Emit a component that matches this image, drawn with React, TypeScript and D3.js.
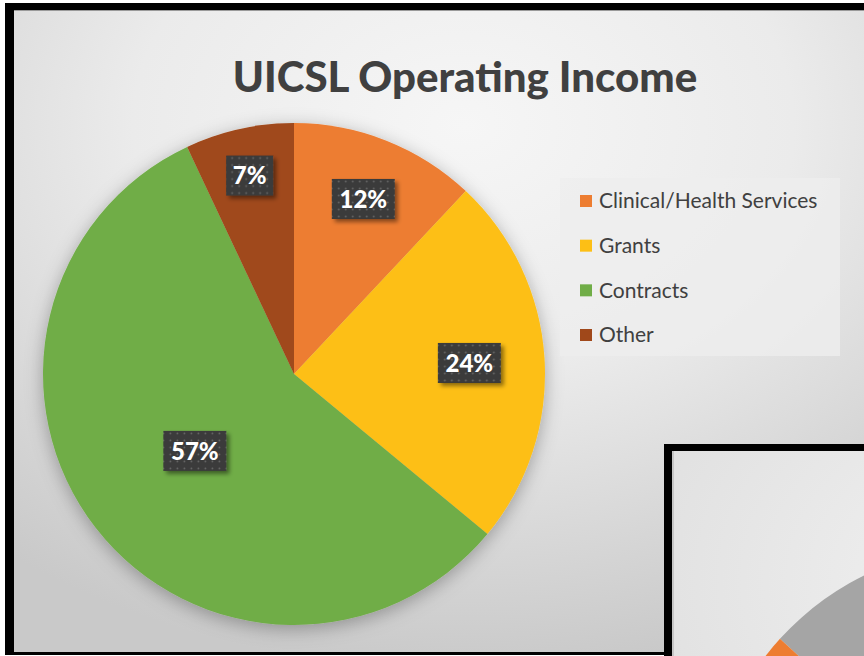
import React from 'react';
import * as d3 from 'd3';

// chart values
const categories: string[] = ['Clinical/Health Services', 'Grants', 'Contracts', 'Other'];
const shares: number[] = [12, 24, 57, 7];
const sliceColors: string[] = ['#ed7d31', '#fdbf15', '#70ad47', '#a0481a'];

// the second slide peeking in at the bottom right
const backValues: number[] = [80, 20];
const backColors: string[] = ['#a5a5a5', '#ed7d31'];

const W = 864;
const H = 656;

// excel "best fit" puts the labels at different depths
const labelDepth = [0.75, 0.7, 0.5, 0.81];

type Slice = { name: string; value: number; color: string };

const App = () => {
  const slices: Slice[] = categories.map((c, i) => ({ name: c, value: shares[i], color: sliceColors[i] }));

  const cx = 294;
  const cy = 374;
  const radius = 251;

  const pie = d3.pie<Slice>().sort(null).value((d) => d.value);
  const arcs = pie(slices);
  const arc = d3.arc<d3.PieArcDatum<Slice>>().innerRadius(0).outerRadius(radius);

  const legendY = d3.scalePoint<string>().domain(categories).range([201, 335]);

  // back chart
  const backPie = d3
    .pie<number>()
    .sort(null)
    .startAngle(Math.PI * 1.735)
    .endAngle(Math.PI * 1.735 + Math.PI * 2);
  const backArcs = backPie(backValues);
  const backArc = d3.arc<d3.PieArcDatum<number>>().innerRadius(0).outerRadius(284);

  return (
    <svg width={W} height={H} style={{ position: 'absolute', left: 0, top: 0 }}>
      <defs>
        <radialGradient id="bg" cx="52%" cy="18%" r="85%">
          <stop offset="0%" stopColor="#f6f6f6" />
          <stop offset="45%" stopColor="#ebebeb" />
          <stop offset="100%" stopColor="#c9c9c9" />
        </radialGradient>
        <radialGradient id="bg2" cx="40%" cy="20%" r="90%">
          <stop offset="0%" stopColor="#f2f2f2" />
          <stop offset="100%" stopColor="#d0d0d0" />
        </radialGradient>
        <pattern id="dots" width="7" height="7" patternUnits="userSpaceOnUse">
          <rect width="7" height="7" fill="#3a3a3a" />
          <circle cx="3.5" cy="3.5" r="0.9" fill="#6a6a6a" />
        </pattern>
        <filter id="pieShadow" x="-20%" y="-20%" width="140%" height="140%">
          <feDropShadow dx="0" dy="4" stdDeviation="9" floodColor="#000" floodOpacity="0.3" />
        </filter>
        <filter id="boxShadow" x="-30%" y="-30%" width="160%" height="160%">
          <feDropShadow dx="3" dy="3" stdDeviation="2" floodColor="#000" floodOpacity="0.45" />
        </filter>
      </defs>

      <rect x={0} y={0} width={W} height={H} fill="#ffffff" />
      {/* slide frame */}
      <rect x={5} y={3} width={W} height={652} fill="#000" />
      <rect x={14} y={10} width={W} height={642} fill="url(#bg)" />
      <line x1={14} x2={W} y1={10.5} y2={10.5} stroke="#9a9a9a" strokeWidth={1} />

      <text
        x={465}
        y={92}
        textAnchor="middle"
        fontFamily="Lato, 'Open Sans', sans-serif"
        fontWeight={900}
        fontSize={42}
        fill="#404040"
      >
        UICSL Operating Income
      </text>

      <g transform={`translate(${cx},${cy})`} filter="url(#pieShadow)">
        {arcs.map((a) => (
          <path key={a.data.name} d={arc(a) || ''} fill={a.data.color} />
        ))}
      </g>

      <g transform={`translate(${cx},${cy})`}>
        {arcs.map((a, i) => {
          const r = radius * labelDepth[i];
          const [lx, ly] = d3.arc<d3.PieArcDatum<Slice>>().innerRadius(r).outerRadius(r).centroid(a);
          const label = `${a.data.value}%`;
          const bw = 16 * label.length + 15;
          const bh = 40;
          return (
            <g key={a.data.name} transform={`translate(${lx},${ly})`}>
              <rect x={-bw / 2} y={-bh / 2} width={bw} height={bh} fill="url(#dots)" filter="url(#boxShadow)" />
              <text
                textAnchor="middle"
                dy="0.36em"
                fontFamily="Lato, 'Open Sans', sans-serif"
                fontWeight={900}
                fontSize={24}
                fill="#ffffff"
              >
                {label}
              </text>
            </g>
          );
        })}
      </g>

      {/* legend */}
      <rect x={560} y={178} width={280} height={178} fill="#eeeeee" opacity={0.8} />
      {categories.map((c, i) => (
        <g key={c} transform={`translate(580,${legendY(c)})`}>
          <rect x={0} y={-6} width={12} height={12} fill={sliceColors[i]} />
          <text x={19} dy="0.35em" fontFamily="Lato, 'Open Sans', sans-serif" fontSize={21} fill="#404040">
            {c}
          </text>
        </g>
      ))}

      {/* next slide overlapping at bottom right */}
      <rect x={664} y={444} width={W} height={H} fill="#000" />
      <rect x={672} y={451} width={W} height={H} fill="url(#bg2)" />
      <line x1={673} x2={673} y1={451} y2={H} stroke="#bdbdbd" strokeWidth={1.5} />
      <g transform="translate(990,830)">
        {backArcs.map((a, i) => (
          <path key={i} d={backArc(a) || ''} fill={backColors[i]} />
        ))}
      </g>
    </svg>
  );
};

export default App;
